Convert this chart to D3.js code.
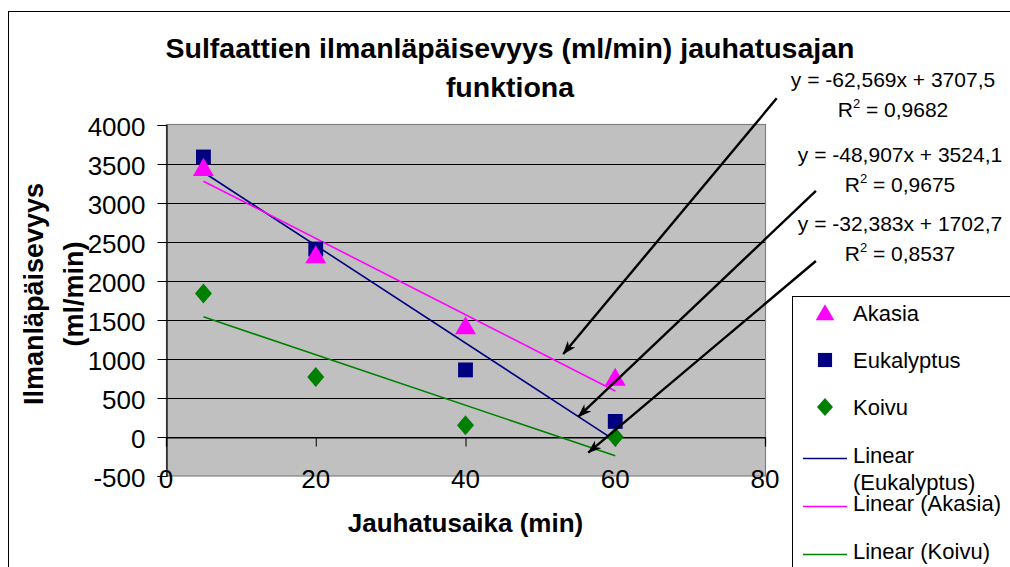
<!DOCTYPE html>
<html>
<head>
<meta charset="utf-8">
<script src="https://cdn.jsdelivr.net/npm/d3@7"></script>
<style>
  html, body { margin: 0; padding: 0; background: #fff; }
  svg { display: block; font-family: "Liberation Sans", Arial, sans-serif; }
</style>
</head>
<body>
<svg id="chart" width="1010" height="567"></svg>
<script>
// Grinding time (min) and air permeability (ml/min) for each pulp
const times = [5, 20, 40, 60];
const akasia = [3450, 2330, 1420, 760];
const eukalyptus = [3590, 2410, 860, 200];
const koivu = [1840, 770, 150, 0];

// Linear trend coefficients (slope, intercept) and R²
const trendEukalyptus = [-62.569, 3707.5, 0.9682];
const trendAkasia = [-48.907, 3524.1, 0.9675];
const trendKoivu = [-32.383, 1702.7, 0.8537];

const xTicks = [0, 20, 40, 60, 80];
const yTicks = [-500, 0, 500, 1000, 1500, 2000, 2500, 3000, 3500, 4000];

const titleLines = ["Sulfaattien ilmanläpäisevyys (ml/min) jauhatusajan", "funktiona"];
const yTitleLines = ["Ilmanläpäisevyys", "(ml/min)"];
const xTitle = "Jauhatusaika (min)";

// Callout arrows for the equations: [tailX, tailY, tipX, tipY] in data units
const calloutArrows = [
  [81.56, 4342, 53.06, 1064],
  [86.8, 3154, 55.07, 260],
  [86.8, 2256, 56.4, -201]
];

const fmt = v => String(v).replace(".", ",");

const svg = d3.select("#chart");
const plot = { left: 166, right: 765, top: 125, bottom: 476 };

const x = d3.scaleLinear().domain([0, 80]).range([plot.left, plot.right]);
const y = d3.scaleLinear().domain([-500, 4000]).range([plot.bottom, plot.top]);

// chart frame
svg.append("rect")
  .attr("x", 8.5).attr("y", 11.5)
  .attr("width", 1020).attr("height", 580)
  .attr("fill", "#fff").attr("stroke", "#000").attr("stroke-width", 1);

// title
svg.append("text")
  .attr("text-anchor", "middle")
  .attr("font-weight", "bold").attr("font-size", 28.5)
  .selectAll("tspan").data(titleLines).join("tspan")
  .attr("x", 510).attr("y", (d, i) => 58 + i * 39)
  .text(d => d);

// plot area
svg.append("rect")
  .attr("x", plot.left + 0.5).attr("y", plot.top - 0.5)
  .attr("width", plot.right - plot.left).attr("height", plot.bottom - plot.top + 0.5)
  .attr("fill", "#c0c0c0").attr("stroke", "#808080").attr("stroke-width", 1.2);

// horizontal gridlines
svg.append("g")
  .selectAll("line").data(yTicks.filter(t => t > -500 && t < 4000)).join("line")
  .attr("x1", plot.left).attr("x2", plot.right)
  .attr("y1", d => Math.round(y(d)) + 0.5).attr("y2", d => Math.round(y(d)) + 0.5)
  .attr("stroke", "#000").attr("stroke-width", 1);

// y axis
const yAxis = svg.append("g")
  .attr("transform", `translate(${plot.left + 0.5},0)`)
  .call(d3.axisLeft(y).tickValues(yTicks).tickSize(9).tickPadding(12).tickFormat(d => String(d)));
yAxis.select(".domain").attr("stroke", "#000").attr("stroke-width", 1.2);
yAxis.selectAll(".tick line").attr("stroke", "#000");
yAxis.selectAll(".tick text")
  .attr("font-family", "'Liberation Sans', Arial, sans-serif")
  .attr("font-size", 26).attr("fill", "#000").attr("dy", "0.4em");

// x axis crossing at y = 0, labels along the bottom edge
const xAxis = svg.append("g")
  .attr("transform", `translate(0,${Math.round(y(0)) + 0.5})`)
  .call(d3.axisBottom(x).tickValues(xTicks).tickSize(9).tickFormat(""));
xAxis.select(".domain").attr("stroke", "#000").attr("stroke-width", 1.2);
xAxis.selectAll(".tick line").attr("stroke", "#000");

svg.append("g")
  .selectAll("text").data(xTicks).join("text")
  .attr("x", d => x(d)).attr("y", 488)
  .attr("text-anchor", "middle").attr("font-size", 26)
  .text(d => d);

// axis titles
svg.append("text")
  .attr("x", (plot.left + plot.right) / 2).attr("y", 532)
  .attr("text-anchor", "middle").attr("font-weight", "bold").attr("font-size", 26)
  .text(xTitle);

svg.append("text")
  .attr("transform", "translate(0,294) rotate(-90)")
  .attr("text-anchor", "middle").attr("font-weight", "bold").attr("font-size", 27)
  .selectAll("tspan").data(yTitleLines).join("tspan")
  .attr("x", 0).attr("y", (d, i) => 43 + i * 40)
  .text(d => d);

// trend lines
const trends = [
  { c: trendEukalyptus, color: "#000080" },
  { c: trendAkasia, color: "#ff00ff" },
  { c: trendKoivu, color: "#008000" }
];
const line = d3.line().x(d => x(d[0])).y(d => y(d[1]));
svg.append("g").selectAll("path").data(trends).join("path")
  .attr("d", t => line([times[0], times[times.length - 1]].map(v => [v, t.c[0] * v + t.c[1]])))
  .attr("fill", "none").attr("stroke", t => t.color).attr("stroke-width", 1.6);

// markers
const triangle = d3.symbol().type(d3.symbolTriangle).size(190);
const square = d3.symbol().type(d3.symbolSquare).size(220);
const diamondPath = "M0,-10L8.5,0L0,10L-8.5,0Z";

svg.append("g").selectAll("path").data(times.map((t, i) => [t, koivu[i]])).join("path")
  .attr("transform", d => `translate(${x(d[0])},${y(d[1])})`)
  .attr("d", diamondPath).attr("fill", "#008000");
svg.append("g").selectAll("path").data(times.map((t, i) => [t, eukalyptus[i]])).join("path")
  .attr("transform", d => `translate(${x(d[0])},${y(d[1])})`)
  .attr("d", square).attr("fill", "#000080");
svg.append("g").selectAll("path").data(times.map((t, i) => [t, akasia[i]])).join("path")
  .attr("transform", d => `translate(${x(d[0])},${y(d[1]) + 2})`)
  .attr("d", triangle).attr("fill", "#ff00ff");

// arrowhead
svg.append("defs").append("marker")
  .attr("id", "head").attr("viewBox", "0 0 14 10")
  .attr("refX", 13).attr("refY", 5)
  .attr("markerWidth", 14).attr("markerHeight", 10)
  .attr("markerUnits", "userSpaceOnUse").attr("orient", "auto")
  .append("path").attr("d", "M0,0L14,5L0,10L4,5Z").attr("fill", "#000");

svg.append("g").selectAll("line").data(calloutArrows).join("line")
  .attr("x1", d => x(d[0])).attr("y1", d => y(d[1]))
  .attr("x2", d => x(d[2])).attr("y2", d => y(d[3]))
  .attr("stroke", "#000").attr("stroke-width", 2.4)
  .attr("marker-end", "url(#head)");

// equation labels
const eqLabels = [
  { c: trendEukalyptus, cx: 893, y: 87 },
  { c: trendAkasia, cx: 900, y: 162 },
  { c: trendKoivu, cx: 900, y: 231 }
];
const eqG = svg.append("g").attr("font-size", 21).attr("text-anchor", "middle");
eqLabels.forEach(e => {
  eqG.append("text").attr("x", e.cx).attr("y", e.y)
    .text(`y = ${fmt(e.c[0])}x + ${fmt(e.c[1])}`);
  const r = eqG.append("text").attr("x", e.cx).attr("y", e.y + 30);
  r.append("tspan").text("R");
  r.append("tspan").attr("dy", -9).attr("font-size", 13).text("2");
  r.append("tspan").attr("dy", 9).text(` = ${fmt(e.c[2])}`);
});

// legend
const lg = svg.append("g");
lg.append("rect")
  .attr("x", 792.5).attr("y", 296.5).attr("width", 240).attr("height", 300)
  .attr("fill", "#fff").attr("stroke", "#000").attr("stroke-width", 1);

const legendMarkers = [
  { name: "Akasia", shape: "tri", color: "#ff00ff", y: 313 },
  { name: "Eukalyptus", shape: "sq", color: "#000080", y: 360 },
  { name: "Koivu", shape: "dia", color: "#008000", y: 407 }
];
legendMarkers.forEach(m => {
  const p = lg.append("path").attr("fill", m.color)
    .attr("transform", `translate(825,${m.y + (m.shape === "tri" ? 2 : 0)})`);
  if (m.shape === "tri") p.attr("d", d3.symbol().type(d3.symbolTriangle).size(150));
  else if (m.shape === "sq") p.attr("d", d3.symbol().type(d3.symbolSquare).size(200));
  else p.attr("d", "M0,-9L8,0L0,9L-8,0Z");
  lg.append("text").attr("x", 853).attr("y", m.y + 7.5).attr("font-size", 22).text(m.name);
});

const legendLines = [
  { lines: ["Linear", "(Eukalyptus)"], color: "#000080", y: 458 },
  { lines: ["Linear (Akasia)"], color: "#ff00ff", y: 506 },
  { lines: ["Linear (Koivu)"], color: "#008000", y: 554 }
];
legendLines.forEach(l => {
  lg.append("line").attr("x1", 803).attr("x2", 847)
    .attr("y1", l.y + 0.5).attr("y2", l.y + 0.5)
    .attr("stroke", l.color).attr("stroke-width", 1.6);
  lg.append("text").attr("font-size", 22)
    .selectAll("tspan").data(l.lines).join("tspan")
    .attr("x", 853).attr("y", (d, i) => l.y + 5 + i * 27)
    .text(d => d);
});
</script>
</body>
</html>
